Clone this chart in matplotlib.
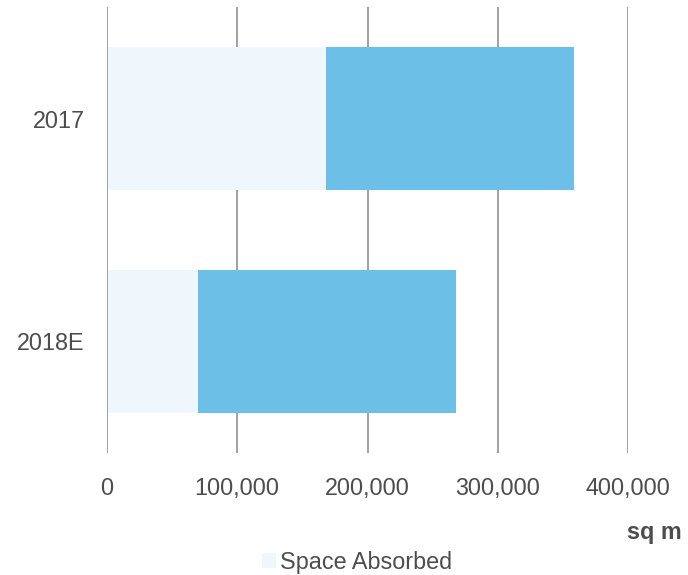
import matplotlib
matplotlib.use('Agg')
import matplotlib.pyplot as plt

# Data (sq m)
years = ['2017', '2018E']
space_absorbed = [168000, 70000]
remaining = [190500, 198000]
x_ticks = [0, 100000, 200000, 300000, 400000]

light = '#eff7fc'
dark = '#6cbfe6'
txt = '#4d4d4d'

plt.rcParams['font.family'] = ['Liberation Sans', 'DejaVu Sans']
plt.rcParams['font.size'] = 16.8

fig = plt.figure(figsize=(6.88, 5.75), dpi=100)
ax = fig.add_axes([107 / 688, 1 - 453 / 575, 521 / 688, 446 / 575])

pos = list(range(len(years)))
ax.barh(pos, space_absorbed, height=0.64, color=light, label='Space Absorbed', zorder=2)
ax.barh(pos, remaining, left=space_absorbed, height=0.64, color=dark, label='_nolegend_', zorder=2)

# vertical grid lines (the zero line sits on top of the bars)
for t in x_ticks:
    ax.axvline(t, color='#999999', lw=1.3, zorder=1 if t else 3)

ax.set_xlim(0, 400000)
ax.set_ylim(1.5, -0.5)
ax.set_yticks(pos)
ax.set_yticklabels(years)
ax.set_xticks(x_ticks)
ax.set_xticklabels(['{:,}'.format(t) for t in x_ticks])
ax.tick_params(axis='both', length=0, colors=txt, labelsize=16.8)
ax.tick_params(axis='x', pad=17)
ax.tick_params(axis='y', pad=16)
for s in ax.spines.values():
    s.set_visible(False)

fig.text(682 / 688, 1 - 533 / 575, 'sq m', ha='right', va='center',
         fontweight='bold', color=txt, fontsize=16.8)

fig.legend(loc='center', bbox_to_anchor=(357 / 688, 1 - 562 / 575), frameon=False,
           handlelength=0.6, handleheight=0.6, handletextpad=0.2,
           labelcolor=txt, fontsize=16.8, borderpad=0)

fig.savefig('out.png', dpi=100)
